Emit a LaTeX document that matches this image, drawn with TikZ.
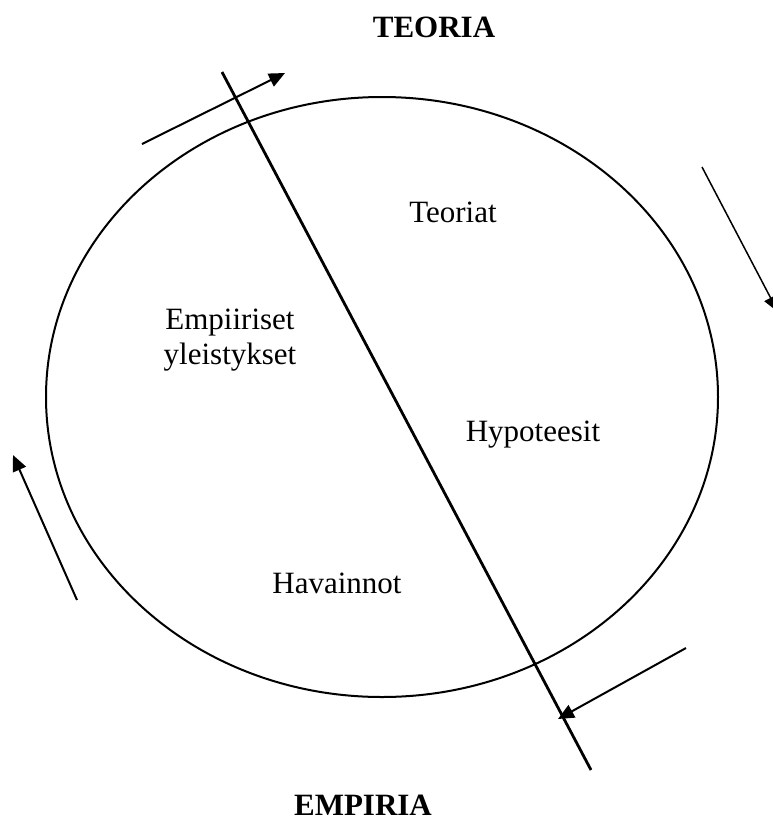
\documentclass[tikz,border=0pt]{standalone}
\usepackage{fontspec}
\setmainfont{Liberation Serif}
\usetikzlibrary{arrows.meta}
\begin{document}
\begin{tikzpicture}[x=1pt,y=-1pt,
  lbl/.style={font=\fontsize{31}{35}\selectfont, inner sep=0pt, align=center},
  ttl/.style={font=\fontsize{31}{35}\selectfont\bfseries, inner sep=0pt},
  flow/.style={line width=2pt, -{Triangle[length=16pt,width=14pt]}}]
\useasboundingbox (0,0) rectangle (773,823);
\draw[line width=2pt] (382,397) ellipse [x radius=336, y radius=300];
\coordinate (d1) at (222,72);
\coordinate (d2) at (591,770);
\draw[line width=2.8pt] (d1) -- (d2);
\node[ttl] (teoria) at (434,27) {TEORIA};
\node[ttl] (empiria) at (363,805) {EMPIRIA};
\node[lbl] (teoriat) at (453,212) {Teoriat};
\node[lbl] (emp) at (230,340) {Empiiriset\\yleistykset};
\node[lbl] (hyp) at (533,435) {Hypoteesit};
\node[lbl] (hav) at (337,583) {Havainnot};
\coordinate (a1s) at (142,144); \coordinate (a1e) at (285,73);
\coordinate (a2s) at (702,167); \coordinate (a2e) at (778,312);
\coordinate (a3s) at (77,600); \coordinate (a3e) at (13,455);
\coordinate (a4s) at (686,648); \coordinate (a4e) at (558,719);
\draw[flow] (a1s) -- (a1e);
\draw[flow,line width=1.5pt] (a2s) -- (a2e);
\draw[flow] (a3s) -- (a3e);
\draw[flow] (a4s) -- (a4e);
\end{tikzpicture}
\end{document}
